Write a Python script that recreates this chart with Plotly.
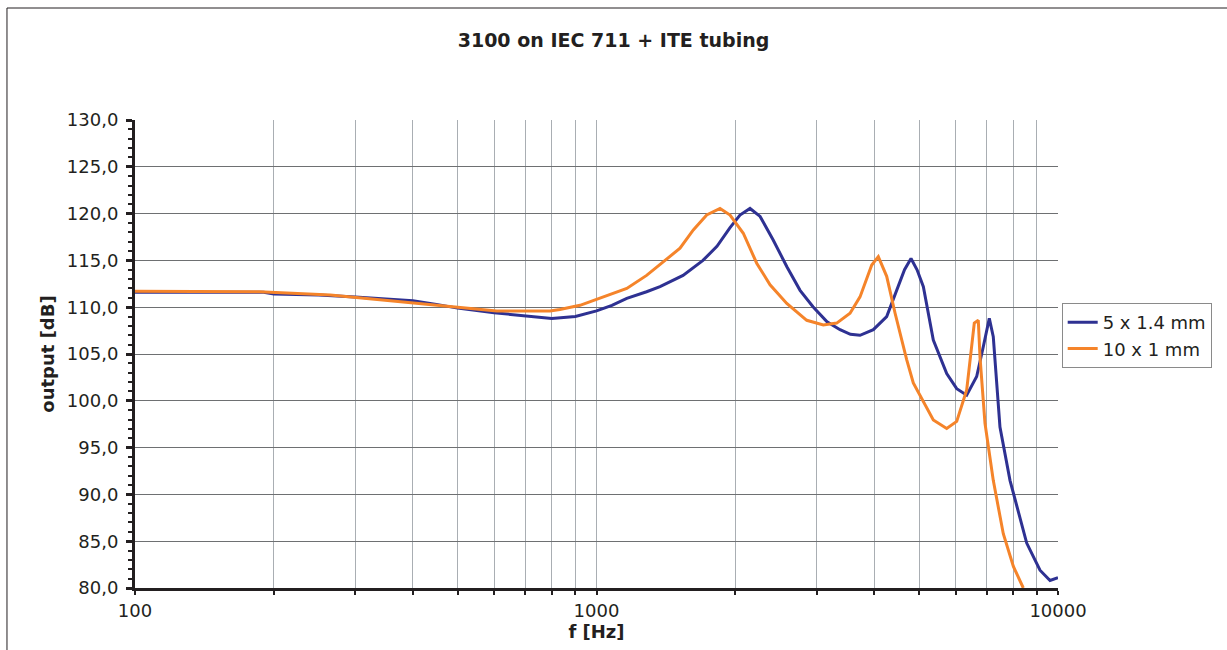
import plotly.graph_objects as go

# ---- data ----
freq_a = [100, 150, 190, 200, 250, 300, 350, 400, 450, 500, 600, 700, 800, 900,
          1000, 1080, 1163, 1284, 1373, 1540, 1701, 1824, 1947, 2046, 2151, 2262,
          2413, 2587, 2761, 2945, 3159, 3371, 3550, 3724, 3980, 4254, 4472, 4650,
          4803, 4950, 5108, 5368, 5739, 6033, 6341, 6665, 6890, 7098, 7240, 7486,
          7870, 8554, 9141, 9610, 10000]
db_a = [111.6, 111.6, 111.6, 111.4, 111.3, 111.1, 110.9, 110.7, 110.3, 109.9, 109.4,
        109.1, 108.8, 109.0, 109.6, 110.2, 110.95, 111.65, 112.2, 113.4, 115.0, 116.5,
        118.5, 119.85, 120.55, 119.7, 117.2, 114.3, 111.8, 110.05, 108.45, 107.6, 107.1,
        107.0, 107.6, 109.0, 111.8, 114.0, 115.2, 114.0, 112.2, 106.5, 102.9, 101.3,
        100.6, 102.6, 105.8, 108.8, 106.85, 97.2, 91.5, 84.8, 81.9, 80.8, 81.1]

freq_b = [100, 186, 265, 369, 514, 608, 793, 833, 921, 1018, 1163, 1284, 1396, 1517,
          1621, 1733, 1852, 1947, 2080, 2224, 2377, 2584, 2855, 3101, 3315, 3543, 3724,
          3948, 4080, 4254, 4436, 4700, 4858, 5368, 5739, 6033, 6341, 6502, 6586, 6719,
          6776, 6947, 7240, 7611, 8004, 8410]
db_b = [111.7, 111.65, 111.3, 110.6, 109.9, 109.6, 109.6, 109.75, 110.2, 110.95, 112.0,
        113.4, 114.85, 116.3, 118.25, 119.85, 120.55, 119.85, 117.9, 114.7, 112.4, 110.4,
        108.6, 108.1, 108.3, 109.35, 111.1, 114.5, 115.4, 113.3, 109.35, 104.4, 101.9,
        97.95, 97.05, 97.8, 101.15, 105.8, 108.3, 108.6, 104.7, 97.6, 91.5, 85.8, 82.3, 80.0]

series_names = ["5 x 1.4 mm", "10 x 1 mm"]
series_colors = ["#2e3192", "#f5842a"]

x_tickvals = [m * d for d in (100, 1000) for m in range(1, 10)] + [10000]
x_ticktext = [str(v) if v in (100, 1000, 10000) else "" for v in x_tickvals]
y_tickvals = list(range(80, 131, 5))

title_text = "3100 on IEC 711 + ITE tubing"
x_title = "f [Hz]"
y_title = "output [dB]"

FONT = "DejaVu Sans, Verdana, sans-serif"
TXT = "#231f20"

fig = go.Figure()
for fx, fy, name, col in [(freq_a, db_a, series_names[0], series_colors[0]),
                          (freq_b, db_b, series_names[1], series_colors[1])]:
    fig.add_trace(go.Scatter(x=fx, y=fy, mode="lines", name=name,
                             line=dict(color=col, width=3)))

fig.update_layout(
    width=1227, height=650,
    margin=dict(l=135, r=169, t=120, b=62),
    paper_bgcolor="white", plot_bgcolor="white",
    separators=",.",
    font=dict(family=FONT, size=18, color=TXT),
    title=dict(text="<b>" + title_text + "</b>", x=0.5, xanchor="center",
               y=1 - 40 / 650, yanchor="middle",
               font=dict(family=FONT, size=19, color=TXT)),
    showlegend=True,
    legend=dict(x=1.004, y=0.609, xanchor="left", yanchor="top",
                bordercolor="#8a8a8a", borderwidth=1, bgcolor="white",
                font=dict(family=FONT, size=18, color=TXT),
                tracegroupgap=0, itemwidth=30),
    xaxis=dict(type="log", range=[2, 4],
               tickvals=x_tickvals, ticktext=x_ticktext,
               showgrid=True, gridcolor="#a9aeb3", gridwidth=1,
               ticks="outside", ticklen=4, tickwidth=2, tickcolor="#231f20",
               showline=True, linecolor="#231f20", linewidth=3,
               zeroline=False, tickfont=dict(size=18),
               title=dict(text="<b>" + x_title + "</b>", standoff=4,
                          font=dict(family=FONT, size=18, color=TXT))),
    yaxis=dict(range=[80, 130], tickvals=y_tickvals, tickformat=".1f",
               showgrid=True, gridcolor="#6e7072", gridwidth=1,
               ticks="outside", ticklen=6, tickwidth=3, tickcolor="#231f20",
               minor=dict(dtick=1, ticks="outside", ticklen=4, tickwidth=2,
                          tickcolor="#231f20", showgrid=False),
               showline=True, linecolor="#231f20", linewidth=3,
               zeroline=False, tickfont=dict(size=18), ticklabelstandoff=4,
               title=dict(text="<b>" + y_title + "</b>", standoff=8,
                          font=dict(family=FONT, size=18, color=TXT))),
)

# outer chart frame
fig.add_shape(type="rect", xref="paper", yref="paper",
              x0=-0.1387, y0=-0.3, x1=1.4, y1=1.2393,
              line=dict(color="#231f20", width=1), fillcolor="rgba(0,0,0,0)",
              layer="below")

fig.write_html("out.html")
